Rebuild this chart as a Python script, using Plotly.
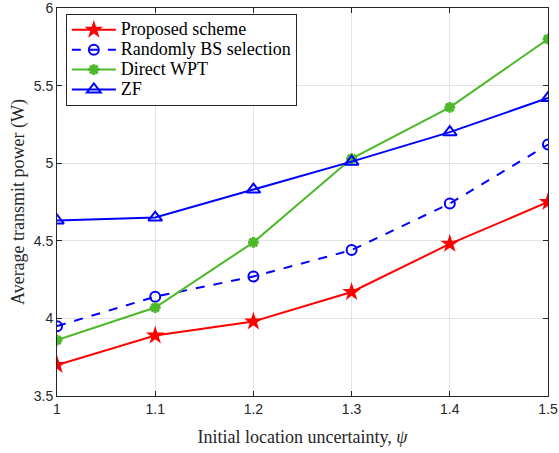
import plotly.graph_objects as go

psi = [1.0, 1.1, 1.2, 1.3, 1.4, 1.5]
proposed = [3.70, 3.89, 3.98, 4.17, 4.48, 4.75]
random_bs = [3.95, 4.14, 4.27, 4.44, 4.74, 5.12]
direct_wpt = [3.86, 4.07, 4.49, 5.03, 5.36, 5.80]
zf = [4.63, 4.65, 4.83, 5.01, 5.20, 5.42]

x_ticks = [1, 1.1, 1.2, 1.3, 1.4, 1.5]
x_ticklabels = ["1", "1.1", "1.2", "1.3", "1.4", "1.5"]
y_ticks = [3.5, 4, 4.5, 5, 5.5, 6]
y_ticklabels = ["3.5", "4", "4.5", "5", "5.5", "6"]


def lg(name):
    return '<span style="font-size:18px">' + name + '</span>'


fig = go.Figure()
fig.add_trace(go.Scatter(x=psi, y=proposed, name=lg("Proposed scheme"), mode="lines+markers",
                         line=dict(color="#ff0000", width=2),
                         marker=dict(symbol="star", size=14, color="#ff0000")))
fig.add_trace(go.Scatter(x=psi, y=random_bs, name=lg("Randomly BS selection"), mode="lines+markers",
                         line=dict(color="#0000ff", width=2, dash="dash"),
                         marker=dict(symbol="circle-open", size=10, color="#0000ff", line=dict(width=2, color="#0000ff"))))
fig.add_trace(go.Scatter(x=psi, y=direct_wpt, name=lg("Direct WPT"), mode="lines+markers",
                         line=dict(color="#4cb82a", width=2),
                         marker=dict(symbol="asterisk-open", size=9, color="#4cb82a", line=dict(width=3, color="#4cb82a"))))
fig.add_trace(go.Scatter(x=psi, y=zf, name=lg("ZF"), mode="lines+markers",
                         line=dict(color="#0000ff", width=2),
                         marker=dict(symbol="triangle-up-open", size=12, color="#0000ff", line=dict(width=2, color="#0000ff"))))

axis_common = dict(showline=True, linecolor="#262626", linewidth=1, mirror="ticks",
                   ticks="inside", ticklen=5, tickcolor="#262626", automargin=False,
                   ticklabeloverflow="allow",
                   showgrid=True, gridcolor="#e3e3e3", gridwidth=1, zeroline=False,
                   tickfont=dict(family="Liberation Sans, Arial", size=14, color="#262626"))

fig.update_layout(
    width=559, height=453,
    margin=dict(l=57, r=11, t=8, b=57),
    plot_bgcolor="white", paper_bgcolor="white",
    xaxis=dict(range=[1, 1.5], tickvals=x_ticks, ticktext=x_ticklabels,
               title=dict(text="Initial location uncertainty, <i>ψ</i>", standoff=14,
                          font=dict(family="Liberation Serif, Times New Roman", size=18, color="#262626")),
               **axis_common),
    yaxis=dict(range=[3.5, 6], tickvals=y_ticks, ticktext=y_ticklabels,
               title=dict(text="Average transmit power (W)", standoff=4,
                          font=dict(family="Liberation Serif, Times New Roman", size=18, color="#262626")),
               **axis_common),
    legend=dict(x=0.018, y=0.985, xanchor="left", yanchor="top",
                bgcolor="white", bordercolor="#262626", borderwidth=1,
                font=dict(family="Liberation Serif, Times New Roman", size=13, color="black"),
                tracegroupgap=0, itemwidth=44),
    showlegend=True,
    hovermode=False,
)

fig.write_html("out.html", config={"displayModeBar": False},
               post_script="document.body.style.margin='0';")
